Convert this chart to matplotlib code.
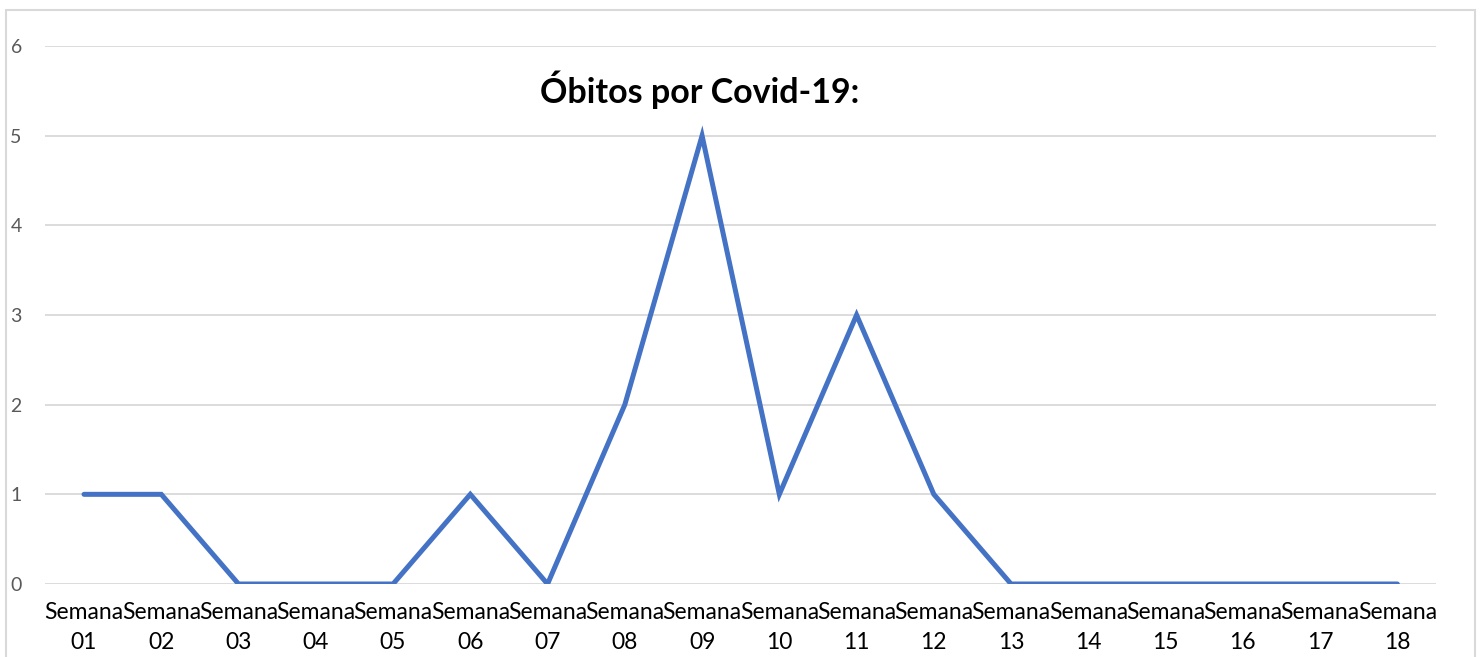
import matplotlib
matplotlib.use('Agg')
import matplotlib.pyplot as plt
from matplotlib.patches import Rectangle

# data
semanas = ['01', '02', '03', '04', '05', '06', '07', '08', '09',
           '10', '11', '12', '13', '14', '15', '16', '17', '18']
obitos = [1, 1, 0, 0, 0, 1, 0, 2, 5, 1, 3, 1, 0, 0, 0, 0, 0, 0]
yticks = [0, 1, 2, 3, 4, 5, 6]
title = 'Óbitos por Covid-19:'

plt.rcParams['font.family'] = ['Lato', 'DejaVu Sans']

W, H = 1482, 657
fig = plt.figure(figsize=(W / 100, H / 100), dpi=100)
ax = fig.add_axes([45.4 / W, (H - 584) / H, (1436 - 45.4) / W, (584 - 46) / H])

x = list(range(len(semanas)))
ax.plot(x, obitos, color='#4472C4', linewidth=3.6, solid_joinstyle='miter',
        solid_capstyle='round', zorder=3)

ax.set_xlim(-0.5, len(semanas) - 0.5)
ax.set_ylim(0, 6)
ax.set_yticks(yticks)
ax.set_yticklabels([str(v) for v in yticks])
ax.set_xticks(x)
ax.set_xticklabels(['Semana\n' + s for s in semanas], linespacing=1.55)

ax.grid(axis='y', color='#D9D9D9', linewidth=1.3)
ax.set_axisbelow(True)
for sp in ax.spines.values():
    sp.set_visible(False)
ax.tick_params(axis='both', length=0)
ax.tick_params(axis='y', labelsize=14, labelcolor='#595959', pad=17)
ax.tick_params(axis='x', labelsize=16.5, labelcolor='#000000', pad=13)

fig.text(700 / W, 1 - 90 / H, title, ha='center', va='center',
         fontsize=24.5, fontweight='bold', color='#000000')

# chart border
fig.patches.append(Rectangle((6 / W, -0.1), (1475 - 6) / W, 1.1 - 10 / H,
                             transform=fig.transFigure, fill=False,
                             edgecolor='#D9D9D9', linewidth=1.5))

fig.savefig('out.png', dpi=100)
